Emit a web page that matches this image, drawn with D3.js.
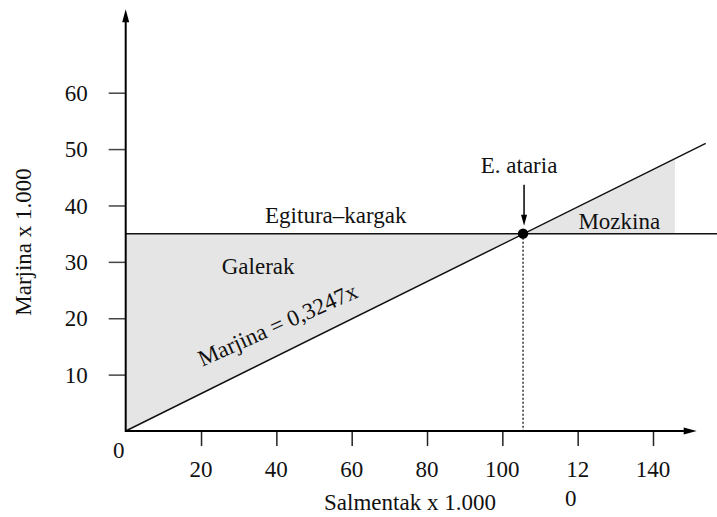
<!DOCTYPE html>
<html>
<head>
<meta charset="utf-8">
<script src="https://cdn.jsdelivr.net/npm/d3@7"></script>
<style>
  html, body { margin: 0; padding: 0; background: #fff; }
  svg { display: block; }
  text { font-family: "Liberation Serif", "Times New Roman", serif; fill: #111; }
</style>
</head>
<body>
<svg id="chart" width="717" height="517"></svg>
<script>
// ---- data ----
const xTicks = [20, 40, 60, 80, 100, 120, 140];
const xTickLabels = [["20"], ["40"], ["60"], ["80"], ["100"], ["12", "0"], ["140"]];
const yTicks = [10, 20, 30, 40, 50, 60];
const yTickLabels = ["10", "20", "30", "40", "50", "60"];
const fixedCost = 35;                       // Egitura-kargak
const fixedLineX = [0, 157];
const marginLine = [[0, 0], [154, 51]];     // Marjina = 0,3247x
const breakEven = [105.5, 35];              // E. ataria
const lossArea = [[0, 0], [0, 35], [105.5, 35]];
const profitArea = [[105.5, 35], [145.8, 48.2], [145.8, 35]];
const xAxisEnd = 151.6;
const yAxisEnd = 74.8;

const xTitle = "Salmentak x 1.000";
const yTitle = "Marjina x 1.000";
const lossLabel = "Galerak";
const profitLabel = "Mozkina";
const fixedLabel = "Egitura\u2013kargak";
const beLabel = "E. ataria";
const lineLabel = "Marjina = 0,3247x";

// ---- scales ----
const x = d3.scaleLinear().domain([0, 140]).range([125.7, 653]);
const y = d3.scaleLinear().domain([0, 60]).range([431, 92.7]);

const svg = d3.select("#chart");
const fs = 23;

// shaded areas
const areaLine = d3.line().x(d => x(d[0])).y(d => y(d[1]));
svg.append("path").attr("d", areaLine(lossArea) + "Z").attr("fill", "#e5e5e5");
svg.append("path").attr("d", areaLine(profitArea) + "Z").attr("fill", "#e5e5e5");

// fixed cost line
svg.append("line")
  .attr("x1", x(fixedLineX[0])).attr("x2", x(fixedLineX[1]))
  .attr("y1", y(fixedCost)).attr("y2", y(fixedCost))
  .attr("stroke", "#111").attr("stroke-width", 1.5);

// margin line
svg.append("path").attr("d", areaLine(marginLine))
  .attr("stroke", "#111").attr("stroke-width", 1.5).attr("fill", "none");

// dotted drop line
svg.append("line")
  .attr("x1", x(breakEven[0])).attr("x2", x(breakEven[0]))
  .attr("y1", y(breakEven[1])).attr("y2", y(0))
  .attr("stroke", "#111").attr("stroke-width", 1.3)
  .attr("stroke-dasharray", "2,2");

// x axis
const xAxis = d3.axisBottom(x).tickValues(xTicks).tickSize(15).tickFormat("");
const gx = svg.append("g").attr("transform", `translate(0,${y(0)})`).call(xAxis);
gx.select(".domain").remove();
gx.selectAll(".tick line").attr("stroke", "#222").attr("stroke-width", 1.5);

// y axis
const yAxis = d3.axisLeft(y).tickValues(yTicks).tickSize(17).tickFormat("");
const gy = svg.append("g").attr("transform", `translate(${x(0)},0)`).call(yAxis);
gy.select(".domain").remove();
gy.selectAll(".tick line").attr("stroke", "#444").attr("stroke-width", 1.5);

// axis lines with arrows
svg.append("line").attr("x1", x(0)).attr("x2", x(xAxisEnd) - 8)
  .attr("y1", y(0)).attr("y2", y(0)).attr("stroke", "#000").attr("stroke-width", 2);
svg.append("path")
  .attr("d", `M${x(xAxisEnd)},${y(0)} L${x(xAxisEnd) - 13},${y(0) - 3.5} L${x(xAxisEnd) - 13},${y(0) + 3.5}Z`)
  .attr("fill", "#000");
svg.append("line").attr("x1", x(0)).attr("x2", x(0))
  .attr("y1", y(0) + 1).attr("y2", y(yAxisEnd) + 8).attr("stroke", "#000").attr("stroke-width", 2);
svg.append("path")
  .attr("d", `M${x(0)},${y(yAxisEnd)} L${x(0) - 3.5},${y(yAxisEnd) + 13} L${x(0) + 3.5},${y(yAxisEnd) + 13}Z`)
  .attr("fill", "#000");

// x tick labels
xTicks.forEach((t, i) => {
  const lines = xTickLabels[i];
  const txt = svg.append("text")
    .attr("x", x(t)).attr("y", y(0) + 46)
    .attr("font-size", fs).attr("text-anchor", "middle");
  lines.forEach((s, j) => {
    txt.append("tspan")
      .attr("x", j === 0 ? x(t) : x(t) - 7)
      .attr("dy", j === 0 ? 0 : 29)
      .text(s);
  });
});
// origin label
svg.append("text").attr("x", x(0) - 7).attr("y", y(0) + 27)
  .attr("font-size", fs).attr("text-anchor", "middle").text("0");

// y tick labels
yTicks.forEach((t, i) => {
  svg.append("text").attr("x", x(0) - 38).attr("y", y(t))
    .attr("dy", "0.35em").attr("font-size", fs).attr("text-anchor", "end")
    .text(yTickLabels[i]);
});

// axis titles
svg.append("text").attr("x", 410).attr("y", 510)
  .attr("font-size", fs).attr("text-anchor", "middle").text(xTitle);
svg.append("text").attr("transform", "translate(31,242) rotate(-90)")
  .attr("font-size", fs).attr("text-anchor", "middle").text(yTitle);

// annotations
svg.append("text").attr("x", x(37)).attr("y", y(fixedCost) - 11)
  .attr("font-size", fs).text(fixedLabel);
svg.append("text").attr("x", x(25.5)).attr("y", y(27.8))
  .attr("font-size", fs).text(lossLabel);
svg.append("text").attr("x", x(120.2)).attr("y", y(fixedCost) - 5)
  .attr("font-size", fs).text(profitLabel);
svg.append("text").attr("x", x(breakEven[0]) - 4).attr("y", y(fixedCost) - 61)
  .attr("font-size", fs).attr("text-anchor", "middle").text(beLabel);
svg.append("text")
  .attr("transform", `translate(${x(20.3)},${y(11.4)}) rotate(-24)`)
  .attr("font-size", fs).text(lineLabel);

// break-even arrow
const bx = x(breakEven[0]) + 1;
svg.append("line").attr("x1", bx).attr("x2", bx)
  .attr("y1", y(fixedCost) - 49).attr("y2", y(fixedCost) - 16)
  .attr("stroke", "#000").attr("stroke-width", 1.5);
svg.append("path")
  .attr("d", `M${bx},${y(fixedCost) - 8} L${bx - 3},${y(fixedCost) - 19} L${bx + 3},${y(fixedCost) - 19}Z`)
  .attr("fill", "#000");

// break-even dot
svg.append("circle").attr("cx", x(breakEven[0])).attr("cy", y(breakEven[1]))
  .attr("r", 5.2).attr("fill", "#000");
</script>
</body>
</html>
